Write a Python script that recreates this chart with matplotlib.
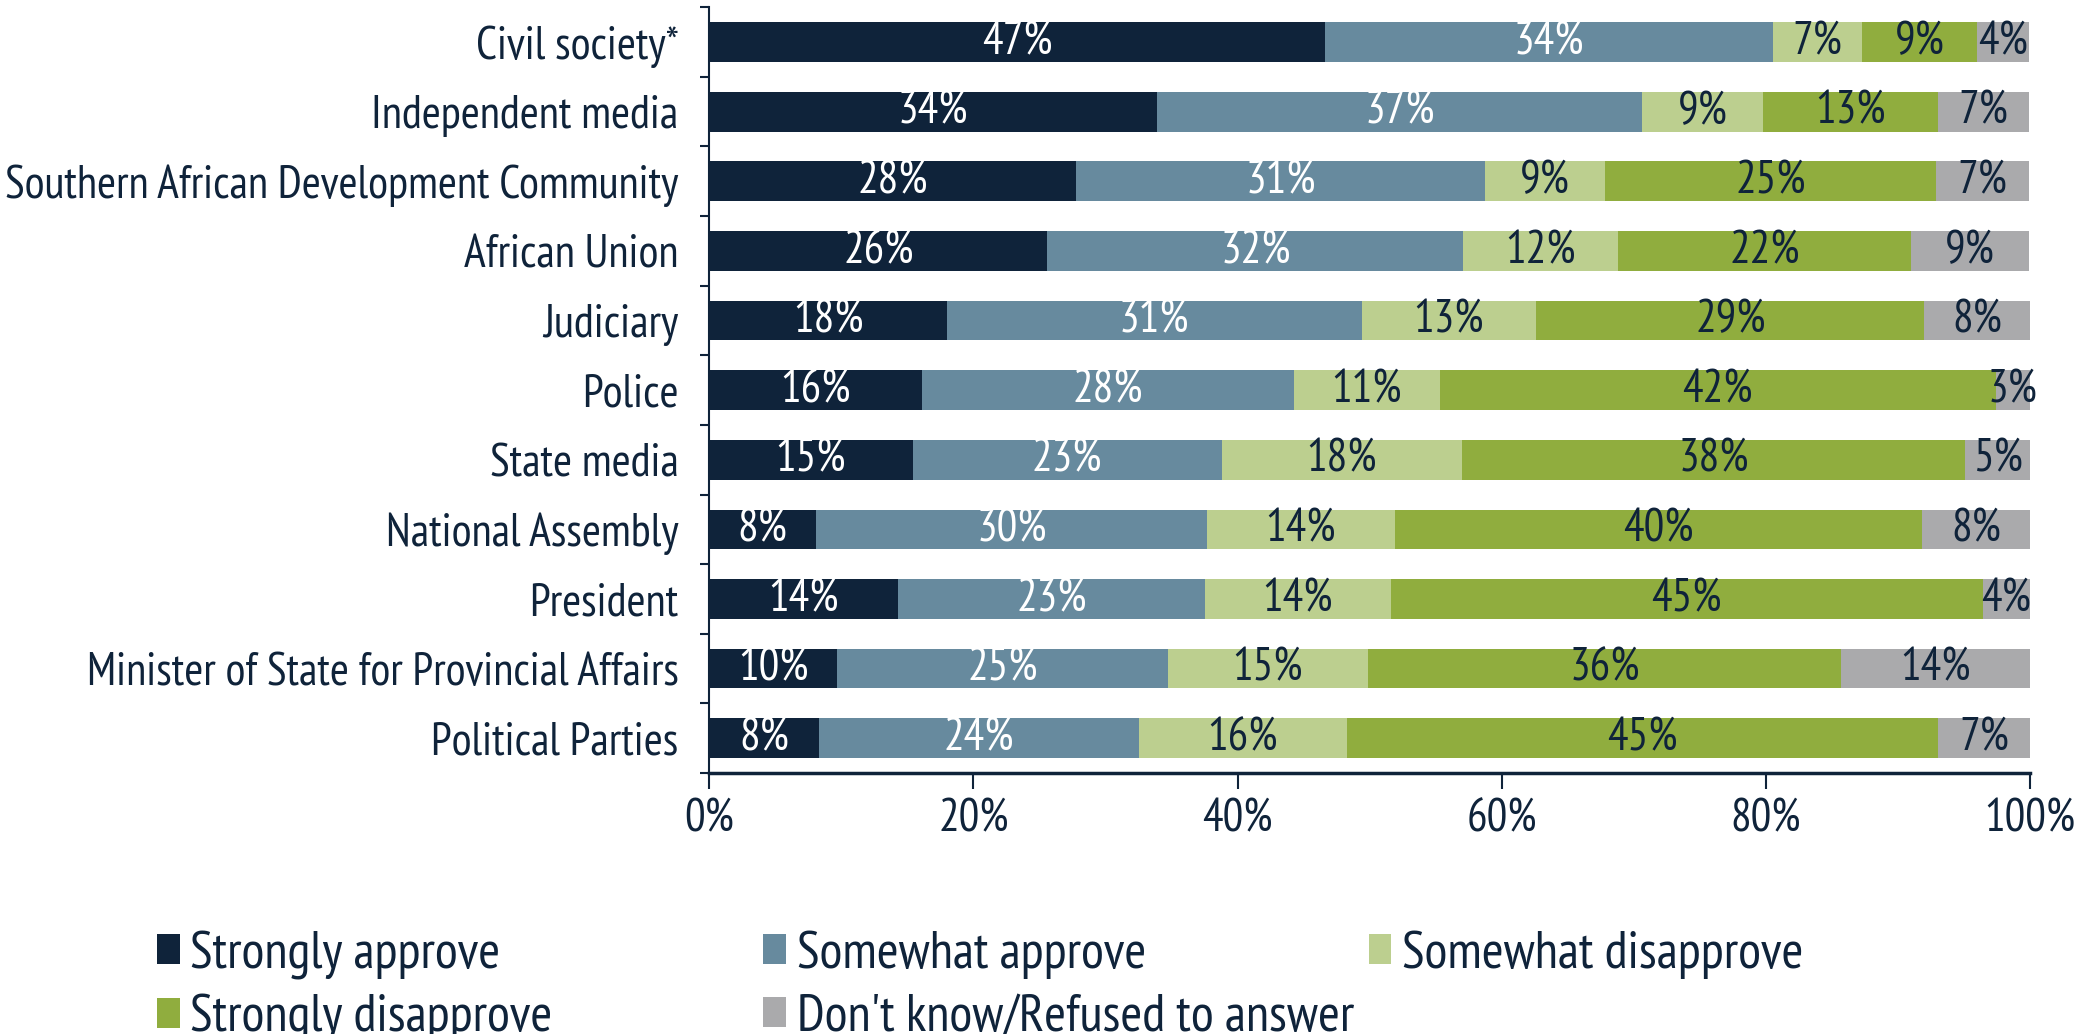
import numpy as np
import matplotlib
matplotlib.use("Agg")
import matplotlib.pyplot as plt
from matplotlib.patches import Patch

plt.rcParams["font.family"] = ["PT Sans Narrow", "DejaVu Sans"]

NAVY = "#0f233a"
FS = 33
LEGEND_FS = 38

institutions = [
    "Civil society*",
    "Independent media",
    "Southern African Development Community",
    "African Union",
    "Judiciary",
    "Police",
    "State media",
    "National Assembly",
    "President",
    "Minister of State for Provincial Affairs",
    "Political Parties",
]

responses = [
    "Strongly approve",
    "Somewhat approve",
    "Somewhat disapprove",
    "Strongly disapprove",
    "Don't know/Refused to answer",
]

# share of respondents (%) per institution, in the order above
strongly_approve = [46.6, 33.9, 27.8, 25.6, 18.0, 16.1, 15.4, 8.1, 14.3, 9.7, 8.3]
somewhat_approve = [33.9, 36.7, 30.9, 31.5, 31.4, 28.2, 23.4, 29.6, 23.2, 25.0, 24.2]
somewhat_disapprove = [6.8, 9.2, 9.1, 11.7, 13.2, 11.0, 18.2, 14.2, 14.1, 15.2, 15.8]
strongly_disapprove = [8.7, 13.2, 25.1, 22.2, 29.4, 42.1, 38.1, 39.9, 44.8, 35.8, 44.7]
dont_know = [3.9, 6.9, 7.0, 8.9, 8.0, 2.6, 5.0, 8.2, 3.7, 14.3, 7.0]

series = [strongly_approve, somewhat_approve, somewhat_disapprove,
          strongly_disapprove, dont_know]
colors = ["#0f233a", "#678a9e", "#bccf8f", "#90ad3e", "#aaaaac"]
text_colors = ["white", "white", NAVY, NAVY, NAVY]

fig = plt.figure(figsize=(20.8, 10.34), dpi=100)
ax = fig.add_axes([0.341, 0.2524, 0.635, 0.7406])

y = np.arange(len(institutions))
left = np.zeros(len(institutions))
for vals, col, tcol, name in zip(series, colors, text_colors, responses):
    vals = np.array(vals)
    bars = ax.barh(y, vals, left=left, height=0.57, color=col, label=name)
    ax.bar_label(bars, labels=[f"{v:.0f}%" for v in vals], label_type="center",
                 color=tcol, fontsize=FS)
    left += vals

ax.set_xlim(0, 100)
ax.set_ylim(len(institutions) - 0.5, -0.5)
ax.set_xticks(np.arange(0, 101, 20))
ax.set_xticklabels([f"{t}%" for t in range(0, 101, 20)])
ax.set_yticks(y)
ax.set_yticklabels(institutions)
ax.set_yticks(np.arange(-0.5, len(institutions)), minor=True)

ax.tick_params(axis="x", length=11.5, width=1.5, color=NAVY, labelcolor=NAVY,
               labelsize=FS, pad=7)
ax.tick_params(axis="y", which="major", length=0, labelcolor=NAVY,
               labelsize=FS, pad=22)
ax.tick_params(axis="y", which="minor", length=6.5, width=1.5, color=NAVY)

for side in ["top", "right"]:
    ax.spines[side].set_visible(False)
ax.spines["bottom"].set_color(NAVY)
ax.spines["bottom"].set_linewidth(2.5)
ax.spines["left"].set_color(NAVY)
ax.spines["left"].set_linewidth(1.5)

# legend laid out as three equal-width columns, filled row by row
handles = [Patch(facecolor=c, label=n) for c, n in zip(colors, responses)]
columns = [[handles[0], handles[3]], [handles[1], handles[4]], [handles[2]]]
col_x = [0.0755, 0.367, 0.658]
for hs, x0 in zip(columns, col_x):
    fig.legend(handles=hs, loc="upper left", bbox_to_anchor=(x0, 0.1),
               frameon=False, fontsize=LEGEND_FS, labelcolor=NAVY,
               handlelength=0.43, handleheight=0.5, handletextpad=0.2,
               labelspacing=0.28, borderaxespad=0, borderpad=0)

fig.savefig("out.png", dpi=100)
